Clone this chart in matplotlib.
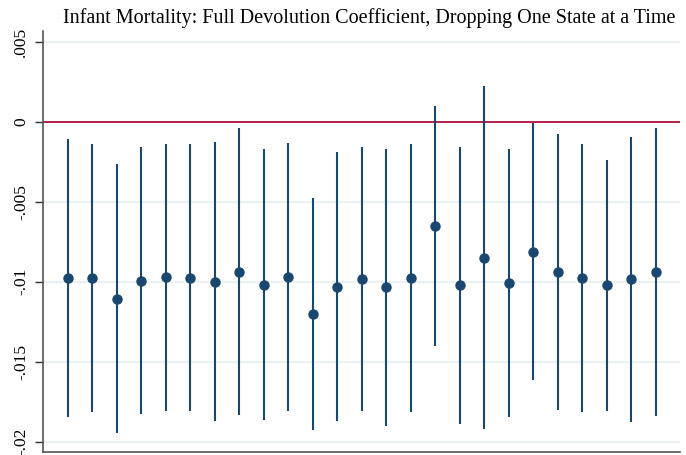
import numpy as np
import matplotlib
matplotlib.use("Agg")
import matplotlib.pyplot as plt

# Coefficient and 95% CI bounds, one per dropped state
coef = [-0.00977, -0.00977, -0.01106, -0.00996, -0.00973, -0.00975, -0.01000,
        -0.00939, -0.01019, -0.00971, -0.01202, -0.01033, -0.00983, -0.01035,
        -0.00975, -0.00652, -0.01023, -0.00850, -0.01006, -0.00814, -0.00939,
        -0.00977, -0.01023, -0.00985, -0.00939]
upper = [-0.00110, -0.00139, -0.00264, -0.00160, -0.00138, -0.00139, -0.00125,
         -0.00041, -0.00171, -0.00133, -0.00477, -0.00189, -0.00156, -0.00171,
         -0.00138, 0.00098, -0.00158, 0.00225, -0.00171, -0.00010, -0.00075,
         -0.00139, -0.00237, -0.00094, -0.00038]
lower = [-0.01848, -0.01816, -0.01944, -0.01829, -0.01810, -0.01810, -0.01873,
         -0.01835, -0.01863, -0.01808, -0.01925, -0.01873, -0.01810, -0.01902,
         -0.01814, -0.01402, -0.01887, -0.01923, -0.01844, -0.01616, -0.01802,
         -0.01814, -0.01808, -0.01875, -0.01841]
yticks = [0.005, 0, -0.005, -0.01, -0.015, -0.02]
ytick_labels = [".005", "0", "-.005", "-.01", "-.015", "-.02"]

navy = "#1a476f"
x = np.arange(1, len(coef) + 1)

fig = plt.figure(figsize=(6.86, 4.55), dpi=100)
ax = fig.add_axes([43 / 686, 1 - 452 / 455, (680 - 43) / 686, (452 - 31) / 455])

for t in yticks:
    ax.axhline(t, color="#eaf2f3", lw=1.5, zorder=0)
ax.axhline(0, color="#b0103a", lw=1.3, zorder=1)

ax.vlines(x, lower, upper, color=navy, lw=1.5, zorder=2)
ax.plot(x, coef, "o", color=navy, ms=6.5, zorder=3)

ax.set_xlim(0, 26)
ax.set_ylim(-0.02064, 0.00567)
ax.set_xticks([])
ax.set_yticks(yticks)
ax.set_yticklabels(ytick_labels, rotation=90, va="center",
                   family="Liberation Serif", fontsize=12.5)
ax.tick_params(axis="y", length=6, width=1, color="#333333", pad=4)

for s in ["top", "right"]:
    ax.spines[s].set_visible(False)
for s in ["left", "bottom"]:
    ax.spines[s].set_color("#555555")
    ax.spines[s].set_linewidth(1.2)

fig.text(369 / 686, 1 - 18 / 455,
         "Infant Mortality: Full Devolution Coefficient, Dropping One State at a Time",
         ha="center", va="center", family="Liberation Serif", fontsize=14.5)

fig.savefig("out.png", dpi=100)
